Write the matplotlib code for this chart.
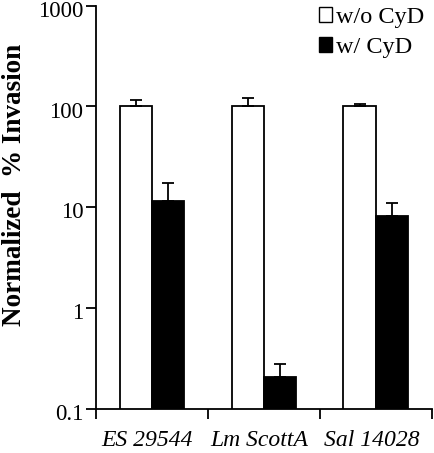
import matplotlib

matplotlib.use("Agg")
import matplotlib.pyplot as plt
import matplotlib.transforms as mtransforms
import numpy as np
from matplotlib.patches import Patch

plt.rcParams["font.family"] = ["Liberation Serif", "DejaVu Serif"]

strains = ["ES 29544", "Lm ScottA", "Sal 14028"]
series_labels = ["w/o CyD", "w/ CyD"]
without_cyd = [100, 100, 100]
without_cyd_err = [15, 21, 6]
with_cyd = [11.5, 0.205, 8.1]
with_cyd_err = [6.0, 0.075, 2.9]
y_ticks = [0.1, 1, 10, 100, 1000]
y_tick_labels = ["0.1", "1", "10", "100", "1000"]

fig = plt.figure(figsize=(4.35, 4.53), dpi=100)
ax = fig.add_axes([0.2207, 0.0978, 0.7723, 0.8896])

x = np.arange(len(strains)) + 0.5
width = 0.29
err_kw = dict(ecolor="black", elinewidth=1.3, capsize=4, capthick=1.3)

ax.bar(x - width / 2, without_cyd, width, color="white", edgecolor="black",
       linewidth=1.3, yerr=[np.zeros(3), without_cyd_err], error_kw=err_kw,
       label=series_labels[0])
ax.bar(x + width / 2, with_cyd, width, color="black", edgecolor="black",
       linewidth=1.3, yerr=[np.zeros(3), with_cyd_err], error_kw=err_kw,
       label=series_labels[1])

ax.set_yscale("log")
ax.set_ylim(0.1, 1000)
ax.set_xlim(0, 3)
ax.yaxis.set_major_locator(matplotlib.ticker.FixedLocator(y_ticks))
ax.yaxis.set_minor_locator(matplotlib.ticker.NullLocator())
ax.set_yticklabels(y_tick_labels)
ax.set_xticks([0, 1, 2, 3])
ax.set_xticklabels([])
ax.set_xticks(x - 0.04, minor=True)
ax.set_xticklabels(strains, minor=True, style="italic", fontsize=17)
ax.tick_params(axis="x", which="minor", length=0, pad=15.5)
ax.tick_params(axis="both", which="major", direction="out", length=7,
               width=1.3, labelsize=16.5)
ax.tick_params(axis="y", pad=2)

# tick labels in the original sit a little below their ticks
shift = mtransforms.ScaledTranslation(0, -2.2 / 72, fig.dpi_scale_trans)
for label in ax.get_yticklabels():
    label.set_transform(label.get_transform() + shift)

for side in ("top", "right"):
    ax.spines[side].set_visible(False)
for side in ("left", "bottom"):
    ax.spines[side].set_linewidth(1.3)

ax.set_ylabel("Normalized  % Invasion", fontsize=19.5, fontweight="bold")
ax.yaxis.set_label_coords(-0.205, 0.556)

handles = [Patch(facecolor="white", edgecolor="black", linewidth=1.0),
           Patch(facecolor="black", edgecolor="black", linewidth=1.0)]
ax.legend(handles, series_labels, loc="upper right", frameon=False,
          fontsize=17.5, handlelength=0.55, handleheight=0.55,
          handletextpad=0.15, labelspacing=0.35, borderaxespad=0.0,
          bbox_to_anchor=(1.005, 1.02))

fig.savefig("out.png", dpi=100)
